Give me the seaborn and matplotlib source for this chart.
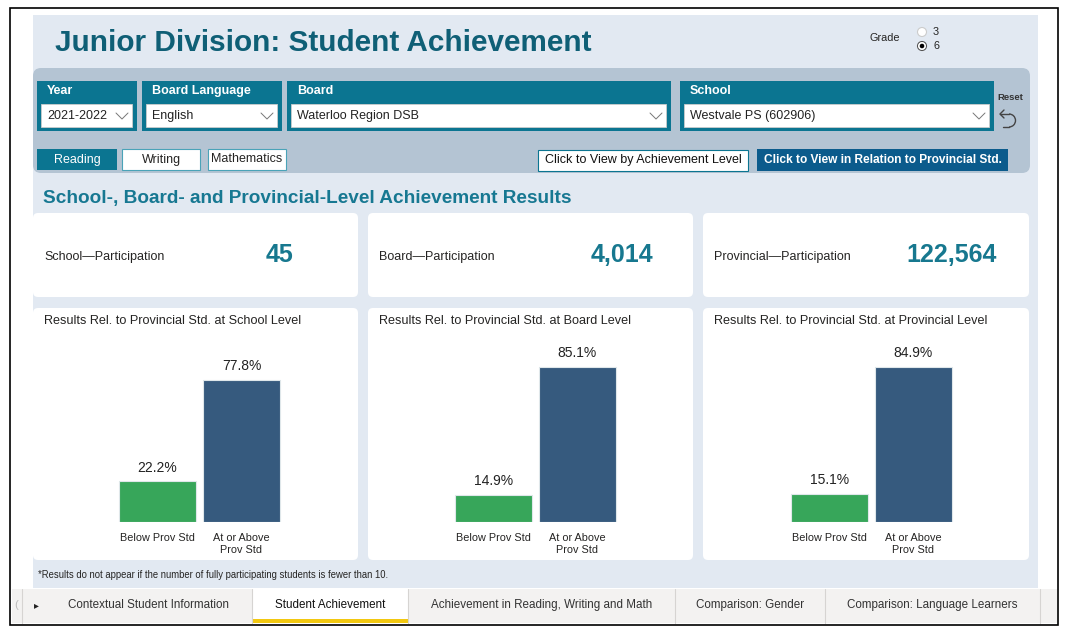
import pandas as pd
import matplotlib.pyplot as plt
import seaborn as sns
from matplotlib.patches import FancyBboxPatch, Rectangle, Circle, Arc

# ---- data ----
levels = ["School", "Board", "Provincial"]
participation = [45, 4014, 122564]
categories = ["Below Prov Std", "At or Above\nProv Std"]
school_pct = [22.2, 77.8]
board_pct = [14.9, 85.1]
prov_pct = [15.1, 84.9]
filter_labels = ["Year", "Board Language", "Board", "School"]
filter_values = ["2021-2022", "English", "Waterloo Region DSB", "Westvale PS (602906)"]
subjects = ["Reading", "Writing", "Mathematics"]
page_tabs = ["Contextual Student Information", "Student Achievement",
             "Achievement in Reading, Writing and Math", "Comparison: Gender",
             "Comparison: Language Learners"]

W, H = 1070, 630
sns.set_theme(style="white")
plt.rcParams['font.family'] = ['Liberation Sans', 'DejaVu Sans']

TEAL = "#0b7591"
TITLE = "#0f5f76"
BG = "#e2e9f2"
TXT = "#252423"

fig = plt.figure(figsize=(W / 100, H / 100), dpi=100)
fig.patch.set_facecolor("white")
bg = fig.add_axes([0, 0, 1, 1])
bg.set_xlim(0, W)
bg.set_ylim(H, 0)
bg.axis("off")


def box(x0, y0, x1, y1, fc, ec="none", lw=0, r=0, z=1):
    if r > 0:
        p = FancyBboxPatch((x0, y0), x1 - x0, y1 - y0, boxstyle=f"round,pad=0,rounding_size={r}",
                           fc=fc, ec=ec, lw=lw, zorder=z)
    else:
        p = Rectangle((x0, y0), x1 - x0, y1 - y0, fc=fc, ec=ec, lw=lw, zorder=z)
    bg.add_patch(p)


def chevron(x, y, c="#777777"):
    bg.plot([x - 6, x, x + 6], [y - 3, y + 3, y - 3], color=c, lw=0.7, zorder=5)


# page frame and background
box(10, 8, 1058, 625, "white", ec="black", lw=1.2, z=0)
box(33, 15, 1038, 588, BG)

# title + grade selector
bg.text(55, 43, "Junior Division: Student Achievement", fontsize=21.4, fontweight="bold",
        color=TITLE, va="center")
bg.text(869, 38, "Grade", fontsize=7.8, color=TXT, va="center")
bg.add_patch(Circle((922, 32), 4.5, fc="white", ec="#cccccc", lw=0.8, zorder=3))
bg.add_patch(Circle((922, 46), 4.5, fc="white", ec="#555555", lw=0.8, zorder=3))
bg.add_patch(Circle((922, 46), 3, fc="black", zorder=4))
bg.text(933, 32, "3", fontsize=7.8, color=TXT, va="center")
bg.text(933, 46, "6", fontsize=7.8, color=TXT, va="center")

# filter bar
box(33, 68, 1030, 173, "#b4c4d3", r=8)
fx = [(37, 137), (142, 282), (287, 671), (680, 994)]
for (x0, x1), lab, val in zip(fx, filter_labels, filter_values):
    box(x0, 81, x1, 131, TEAL)
    bg.text(x0 + 10, 91, lab, fontsize=9, fontweight="bold", color="white", va="center")
    box(x0 + 4, 104, x1 - 5, 127, "white", ec="#cccccc", lw=0.6, z=2)
    bg.text(x0 + 10, 116, val, fontsize=9, color="#222222", va="center", zorder=3)
    chevron(x1 - 15, 116)
bg.text(1010, 98, "Reset", fontsize=6.8, fontweight="bold", color="#333333", ha="center", va="center")
bg.add_patch(Arc((1009, 120.5), 13, 13, theta1=-90, theta2=90, color="#444444", lw=1, zorder=5))
bg.plot([1000, 1009], [114, 114], color="#444444", lw=1)
bg.plot([1009, 1003], [127, 127], color="#444444", lw=1)
bg.plot([1004, 1000, 1004], [110, 114, 118], color="#444444", lw=1)

# subject buttons
sx = [(37, 117), (122, 200), (208, 286)]
for i, ((x0, x1), s) in enumerate(zip(sx, subjects)):
    if i == 0:
        box(x0, 149, x1, 170, TEAL)
        bg.text((x0 + x1) / 2, 159.5, s, fontsize=9, color="white", ha="center", va="center")
    else:
        box(x0, 149, x1, 170, "white", ec="#4aa3b8", lw=0.8)
        bg.text((x0 + x1) / 2, 159.5, s, fontsize=9, color=TXT, ha="center", va="center")
box(538, 150, 748, 171, "white", ec=TEAL, lw=0.8)
bg.text(643, 160.5, "Click to View by Achievement Level", fontsize=9, color="#111111",
        ha="center", va="center")
box(757, 149, 1008, 171, "#0b5b8c")
bg.text(882.5, 160, "Click to View in Relation to Provincial Std.", fontsize=8.6,
        fontweight="bold", color="white", ha="center", va="center")

# section header
bg.text(43, 198, "School-, Board- and Provincial-Level Achievement Results", fontsize=13.7,
        fontweight="bold", color="#177892", va="center")

# participation cards
cx = [(33, 358), (368, 693), (703, 1029)]
vx = [280, 622, 952]
for (x0, x1), lev, n, v in zip(cx, levels, participation, vx):
    box(x0, 213, x1, 297, "white", r=5)
    bg.text(x0 + 11, 257, f"{lev}\u2014Participation", fontsize=9, color=TXT, va="center")
    bg.text(v, 255, f"{n:,}", fontsize=18, fontweight="bold", color="#17788f",
            ha="center", va="center")

# bar chart cards
pcts = [school_pct, board_pct, prov_pct]
lefts = [115.5, 451.5, 787.5]
palette = {categories[0]: "#37a65a", categories[1]: "#365a7e"}
for (x0, x1), lev, vals, left in zip(cx, levels, pcts, lefts):
    box(x0, 308, x1, 560, "white", r=5)
    bg.text(x0 + 11, 321, f"Results Rel. to Provincial Std. at {lev} Level", fontsize=9.1,
            color=TXT, va="center")
    df = pd.DataFrame({"category": categories, "pct": vals})
    bottom, height, width = 522, 182.5, 168
    ax = fig.add_axes([left / W, 1 - bottom / H, width / W, height / H])
    sns.barplot(data=df, x="category", y="pct", hue="category", palette=palette,
                saturation=1, width=0.92, legend=False, ax=ax,
                edgecolor="#dfe7ea", linewidth=0.8)
    for c in ax.containers:
        ax.bar_label(c, fmt="%.1f%%", padding=5, fontsize=10, color="#222222")
    ax.set_xlim(-0.5, 1.5)
    ax.set_ylim(0, 100)
    ax.set_facecolor("none")
    ax.set_xlabel("")
    ax.set_ylabel("")
    ax.set_yticks([])
    ax.set_xticks(range(len(categories)), labels=categories, linespacing=1.2)
    ax.tick_params(axis="x", length=0, pad=8, labelsize=7.8, labelcolor=TXT)
    sns.despine(ax=ax, left=True, bottom=True)

bg.text(38, 575, "*Results do not appear if the number of fully participating students is fewer than 10.",
        fontsize=6.85, color=TXT, va="center")

# bottom page tabs
box(12, 589, 1057, 623, "#f3f2f1", z=1)
bg.text(14, 605, "(", fontsize=8, color="#bbbbbb", va="center")
bg.text(36, 605, "\u25b8", fontsize=7, color="#222222", ha="center", va="center")
tx = [(22, 252), (252, 408), (408, 675), (675, 825), (825, 1040)]
for i, ((x0, x1), t) in enumerate(zip(tx, page_tabs)):
    if i == 1:
        box(x0, 589, x1, 623, "white", z=2)
        box(x0, 619, x1, 623, "#f2c811", z=3)
    bg.plot([x0, x0], [589, 623], color="#d6d4d2", lw=0.8, zorder=4)
    xs = 148 if i == 0 else (x0 + x1) / 2
    bg.text(xs, 605, t, fontsize=8.4, color="#111111" if i == 1 else "#333333",
            ha="center", va="center", zorder=5)
bg.plot([1040, 1040], [589, 623], color="#d6d4d2", lw=0.8, zorder=4)

fig.savefig("out.png", dpi=100)
